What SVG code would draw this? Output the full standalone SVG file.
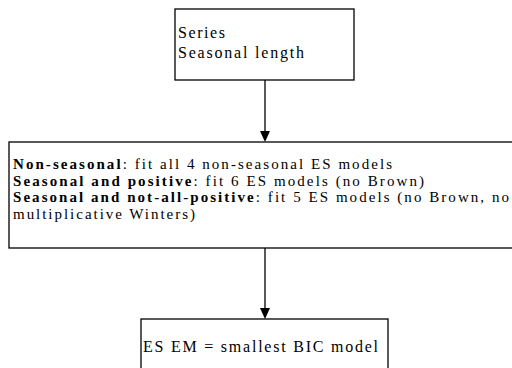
<svg xmlns="http://www.w3.org/2000/svg" width="512" height="368" viewBox="0 0 512 368">
<style>
.box{fill:#fff;stroke:#000;stroke-width:1.3}
.t{font-family:"Liberation Serif","Times New Roman",serif;font-size:16px;fill:#000}
.m{font-size:15px}
.b{font-weight:bold}
.ln{stroke:#000;stroke-width:1.3;fill:none}
</style>
<rect width="512" height="368" fill="#fff"/>
<g id="connectors">
<line class="ln" x1="265" y1="80" x2="265" y2="132"/>
<polygon points="260,131 270,131 265,142" fill="#000"/>
<line class="ln" x1="265" y1="248" x2="265" y2="309"/>
<polygon points="260,308 270,308 265,319" fill="#000"/>
</g>
<g id="node-input">
<rect class="box" x="175" y="9" width="179" height="71"/>
<text class="t" x="178" y="38" textLength="47" lengthAdjust="spacing">Series</text>
<text class="t" x="178" y="58" textLength="126" lengthAdjust="spacing">Seasonal length</text>
</g>
<g id="node-fit">
<rect class="box" x="9" y="142" width="520" height="106"/>
<text class="t m" x="13" y="169" textLength="379" lengthAdjust="spacing"><tspan class="b">Non-seasonal</tspan>: fit all 4 non-seasonal ES models</text>
<text class="t m" x="13" y="185.7" textLength="411" lengthAdjust="spacing"><tspan class="b">Seasonal and positive</tspan>: fit 6 ES models (no Brown)</text>
<text class="t m" x="13" y="202.4" textLength="496" lengthAdjust="spacing"><tspan class="b">Seasonal and not-all-positive</tspan>: fit 5 ES models (no Brown, no</text>
<text class="t m" x="13" y="219.1" textLength="182" lengthAdjust="spacing">multiplicative Winters)</text>
</g>
<g id="node-select">
<rect class="box" x="141" y="319" width="247" height="60"/>
<text class="t" x="143" y="352" textLength="235" lengthAdjust="spacing">ES EM = smallest BIC model</text>
</g>
</svg>
